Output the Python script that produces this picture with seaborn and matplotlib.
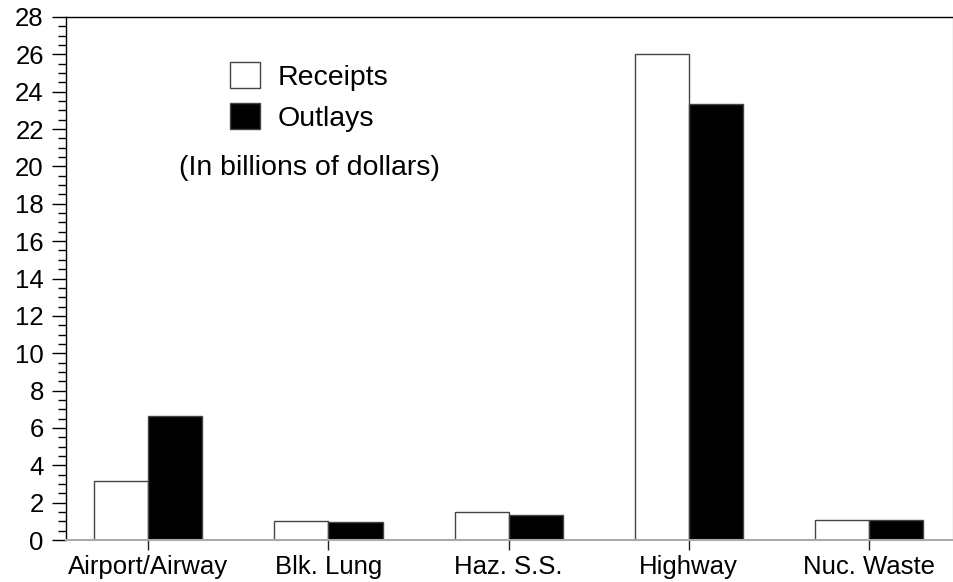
import matplotlib
matplotlib.use("Agg")
import matplotlib.pyplot as plt
from matplotlib.ticker import MultipleLocator
import pandas as pd
import seaborn as sns

funds = ["Airport/Airway", "Blk. Lung", "Haz. S.S.", "Highway", "Nuc. Waste"]
receipts = [3.17, 1.03, 1.50, 26.0, 1.07]
outlays = [6.64, 0.96, 1.32, 23.34, 1.07]

df = pd.DataFrame({
    "fund": funds * 2,
    "amount": receipts + outlays,
    "kind": ["Receipts"] * len(funds) + ["Outlays"] * len(funds),
})

sns.set_style("white")
plt.rcParams["font.family"] = ["Liberation Sans", "DejaVu Sans"]
plt.rcParams["text.color"] = "black"
plt.rcParams["xtick.color"] = "black"
plt.rcParams["ytick.color"] = "black"

fig = plt.figure(figsize=(9.54, 5.82), dpi=100)
ax = fig.add_axes([66 / 954, 42 / 582, 886.7 / 954, 523 / 582])

sns.barplot(data=df, x="fund", y="amount", hue="kind",
            palette={"Receipts": "white", "Outlays": "black"},
            edgecolor="#444444", linewidth=1.0, width=0.6, saturation=1,
            ax=ax)

ax.set_ylim(0, 28)
ax.set_xlim(-0.457, 4.465)
ax.yaxis.set_major_locator(MultipleLocator(2))
ax.yaxis.set_minor_locator(MultipleLocator(0.5))
ax.tick_params(axis="y", which="major", direction="out", length=10, width=1,
               color="black", labelcolor="black", left=True, labelsize=18.5, pad=6)
ax.tick_params(axis="y", which="minor", direction="out", length=5.5, width=1,
               color="black", left=True)
ax.tick_params(axis="x", which="major", direction="out", length=7, width=1,
               color="#222222", labelcolor="black", bottom=True,
               labelsize=18.5, pad=4)
ax.set_xlabel("")
ax.set_ylabel("")

for side in ["left", "top"]:
    ax.spines[side].set_color("black")
    ax.spines[side].set_linewidth(1)
ax.spines["right"].set_color("#444444")
ax.spines["bottom"].set_color("#aaaaaa")
ax.spines["bottom"].set_linewidth(1.5)

handles, labels = ax.get_legend_handles_labels()
ax.legend(handles, labels, loc="upper left", bbox_to_anchor=(0.185, 0.9145),
          frameon=False, fontsize=20.5, borderpad=0, borderaxespad=0,
          handlelength=1.06, handleheight=1.06, handletextpad=0.62,
          labelspacing=0.42)

ax.text(0.2746, 0.711, "(In billions of dollars)", transform=ax.transAxes,
        ha="center", va="center", fontsize=20.5, color="black")

fig.savefig("out.png", dpi=100)
